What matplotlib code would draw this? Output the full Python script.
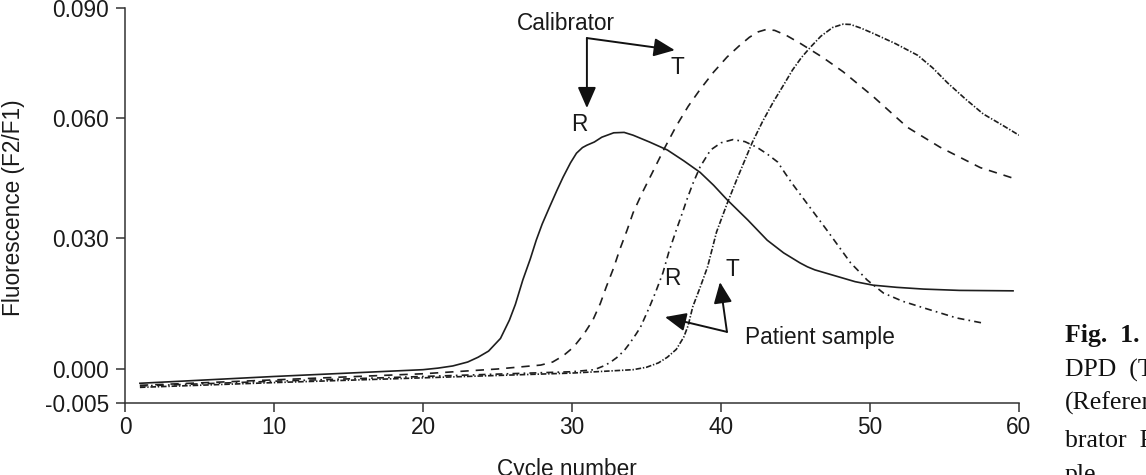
import numpy as np
import matplotlib
matplotlib.use("Agg")
import matplotlib.pyplot as plt

plt.rcParams['font.family'] = ['Liberation Sans', 'DejaVu Sans']
plt.rcParams['lines.scale_dashes'] = False

# ---------------- data ----------------
cal_r_x = [1, 10, 20, 21, 22, 23, 23.7, 24.4, 25.2, 25.8, 26.2, 26.7, 27.2, 27.6, 28.0, 28.5,
           29.0, 29.4, 29.9, 30.3, 30.7, 31.0, 31.5, 32.0, 32.8, 33.5, 34.1, 35.2, 36.4, 37.5,
           38.6, 39.5, 40.4, 41.8, 43.1, 44.2, 45.3, 45.8, 46.3, 47.2, 48.0, 49.0, 50.2, 51.8,
           53.6, 56.0, 59.6]
cal_r_y = [-0.0021, -0.0011, -0.0001, 0.0002, 0.0007, 0.0016, 0.0027, 0.0041, 0.0070, 0.0112,
           0.0148, 0.0204, 0.0252, 0.0295, 0.0335, 0.0378, 0.0420, 0.0452, 0.0488, 0.0512,
           0.0526, 0.0532, 0.0540, 0.0552, 0.0563, 0.0564, 0.0557, 0.0540, 0.0520, 0.0493,
           0.0464, 0.0432, 0.0396, 0.0345, 0.0295, 0.0266, 0.0243, 0.0234, 0.0227, 0.0218,
           0.0210, 0.0200, 0.0192, 0.0187, 0.0183, 0.0180, 0.0179]

cal_t_x = [1, 10, 20, 25, 27.9, 28.7, 29.4, 30.1, 30.8, 31.4, 31.9, 32.3, 32.8, 33.2, 33.7,
           34.1, 34.7, 35.4, 36.2, 37.0, 37.8, 38.6, 39.5, 40.4, 41.2, 41.9, 42.5, 43.0, 43.6,
           44.4, 45.3, 46.8, 48.2, 50.2, 52.5, 54.7, 57.4, 59.9]
cal_t_y = [-0.0024, -0.0016, -0.0007, 0.0000, 0.0009, 0.0016, 0.0030, 0.0050, 0.0080, 0.0112,
           0.0150, 0.0188, 0.0232, 0.0273, 0.0320, 0.0363, 0.0412, 0.0464, 0.0524, 0.0580,
           0.0632, 0.0678, 0.0725, 0.0766, 0.0796, 0.0820, 0.0835, 0.0841, 0.0839, 0.0825,
           0.0804, 0.0766, 0.0726, 0.0659, 0.0577, 0.0527, 0.0476, 0.0446]

pat_r_x = [1, 10, 20, 30, 31.5, 32.2, 32.6, 33.0, 33.5, 33.9, 34.3, 34.6, 35.2, 35.6, 36.1,
           36.5, 37.0, 37.4, 37.7, 38.1, 38.6, 39.3, 40.0, 40.8, 41.6, 42.4, 43.1, 43.8, 44.3,
           44.8, 45.3, 46.2, 47.1, 48.0, 48.7, 49.3, 49.8, 50.9, 52.2, 53.6, 55.8, 57.6]
pat_r_y = [-0.0025, -0.0018, -0.0011, -0.0004, -0.0001, 0.0008, 0.0016, 0.0026, 0.0042, 0.0060,
           0.0080, 0.0096, 0.0142, 0.0175, 0.0220, 0.0268, 0.0320, 0.0362, 0.0395, 0.0435,
           0.0478, 0.0520, 0.0538, 0.0546, 0.0541, 0.0527, 0.0510, 0.0490, 0.0462, 0.0435,
           0.0410, 0.0365, 0.0320, 0.0276, 0.0243, 0.0222, 0.0204, 0.0174, 0.0155, 0.0140,
           0.0117, 0.0105]

pat_t_x = [1, 10, 20, 30, 34.1, 35.0, 35.8, 36.4, 37.0, 37.5, 37.8, 38.1, 38.6, 39.1, 39.7,
           40.4, 41.1, 42.1, 42.8, 43.5, 44.2, 44.8, 45.4, 46.0, 46.7, 47.5, 48.2, 48.7, 49.4,
           50.2, 51.7, 53.2, 54.2, 55.2, 56.4, 57.6, 58.8, 60.0]
pat_t_y = [-0.0027, -0.0020, -0.0013, -0.0006, -0.0001, 0.0004, 0.0014, 0.0027, 0.0045, 0.0073,
           0.0100, 0.0142, 0.0187, 0.0234, 0.0315, 0.0385, 0.0450, 0.0539, 0.0592, 0.0643,
           0.0690, 0.0731, 0.0765, 0.0793, 0.0823, 0.0847, 0.0856, 0.0855, 0.0845, 0.0831,
           0.0803, 0.0771, 0.0737, 0.0696, 0.0652, 0.0611, 0.0584, 0.0557]

y_ticks = [-0.005, 0.000, 0.030, 0.060, 0.090]
y_ticklabels = ["-0.005", "0.000", "0.030", "0.060", "0.090"]
x_ticks = [0, 10, 20, 30, 40, 50, 60]

# ---------------- non-linear y scale (as in the original figure) ----------------
_yp = np.array([0.0, 34.0, 165.0, 285.0, 395.0])
_yv = np.array(y_ticks)

def _pw(v, xs, ys):
    v = np.asarray(v, dtype=float)
    out = np.interp(v, xs, ys)
    s0 = (ys[1] - ys[0]) / (xs[1] - xs[0])
    s1 = (ys[-1] - ys[-2]) / (xs[-1] - xs[-2])
    out = np.where(v < xs[0], ys[0] + (v - xs[0]) * s0, out)
    out = np.where(v > xs[-1], ys[-1] + (v - xs[-1]) * s1, out)
    return out

def fwd(v):
    return _pw(v, _yv, _yp)

def inv(p):
    return _pw(p, _yp, _yv)

# ---------------- figure ----------------
fig = plt.figure(figsize=(11.46, 4.75), dpi=100)
ax = fig.add_axes([125 / 1146, (475 - 403) / 475, 894 / 1146, 395 / 475])
ax.set_yscale('function', functions=(fwd, inv))

lc = '#1e1e1e'
lw = 1.2
ax.plot(cal_r_x, cal_r_y, color=lc, lw=lw, ls='-', solid_joinstyle='round')
ax.plot(cal_t_x, cal_t_y, color=lc, lw=lw, ls=(0, (6, 5)))
ax.plot(pat_r_x, pat_r_y, color=lc, lw=lw, ls=(0, (5, 3, 1.2, 3)))
ax.plot(pat_t_x, pat_t_y, color=lc, lw=lw, ls=(0, (4, 1.3, 1, 1.3)))

ax.set_xlim(0, 60)
ax.set_ylim(-0.005, 0.090)
ax.set_xticks(x_ticks)
ax.set_yticks(y_ticks)
ax.set_yticklabels(y_ticklabels)

for s in ['top', 'right']:
    ax.spines[s].set_visible(False)
for s in ['left', 'bottom']:
    ax.spines[s].set_linewidth(1.1)
    ax.spines[s].set_color('#333333')
ax.tick_params(axis='both', direction='out', length=6.5, width=1.1, color='#333333',
               labelsize=16.3, labelcolor='#1a1a1a')
ax.tick_params(axis='y', pad=5)
ax.tick_params(axis='x', pad=3)

fig.text(14 / 1146, 1 - 208 / 475, "Fluorescence (F2/F1)", rotation=90, ha='center',
         va='center', fontsize=16.3, color='#1a1a1a')
fig.text(567 / 1146, -1 / 475, "Cycle number", ha='center', va='baseline',
         fontsize=16.3, color='#1a1a1a')

# ---------------- annotations ----------------
fs = 16.3
astyle = dict(arrowstyle="-|>,head_length=0.8,head_width=0.35", color='#111111', lw=1.4,
              shrinkA=0, shrinkB=0, mutation_scale=16)

ax.text(29.6, 0.0859, "Calibrator", ha='center', va='center', fontsize=fs, color='#1a1a1a')
ax.annotate('', xy=(31.0, 0.0627), xytext=(31.0, 0.0818), arrowprops=astyle)
ax.annotate('', xy=(36.9, 0.0785), xytext=(31.0, 0.0818), arrowprops=astyle)
ax.text(37.05, 0.0739, "T", ha='center', va='center', fontsize=fs, color='#1a1a1a')
ax.text(30.5, 0.0583, "R", ha='center', va='center', fontsize=fs, color='#1a1a1a')

ax.text(36.7, 0.0208, "R", ha='center', va='center', fontsize=fs, color='#1a1a1a')
ax.text(40.74, 0.0227, "T", ha='center', va='center', fontsize=fs, color='#1a1a1a')
ax.annotate('', xy=(36.24, 0.0119), xytext=(40.4, 0.0085), arrowprops=astyle)
ax.annotate('', xy=(39.93, 0.0199), xytext=(40.4, 0.0085), arrowprops=astyle)
ax.text(41.6, 0.0071, "Patient sample", ha='left', va='center', fontsize=fs, color='#1a1a1a')

# ---------------- cropped caption from the page ----------------
cap = dict(fontsize=18.5, family=['Liberation Serif', 'DejaVu Serif'], color='#111111',
           ha='left', va='baseline')
fig.text(1065 / 1146, 1 - 342 / 475, "Fig.  1.", fontweight='bold', **cap)
fig.text(1065 / 1146, 1 - 377 / 475, "DPD  (T", **cap)
fig.text(1065 / 1146, 1 - 410 / 475, "(Referen", **cap)
fig.text(1065 / 1146, 1 - 447 / 475, "brator  R", **cap)
fig.text(1065 / 1146, 1 - 481 / 475, "ple", **cap)

fig.savefig("out.png", dpi=100)
